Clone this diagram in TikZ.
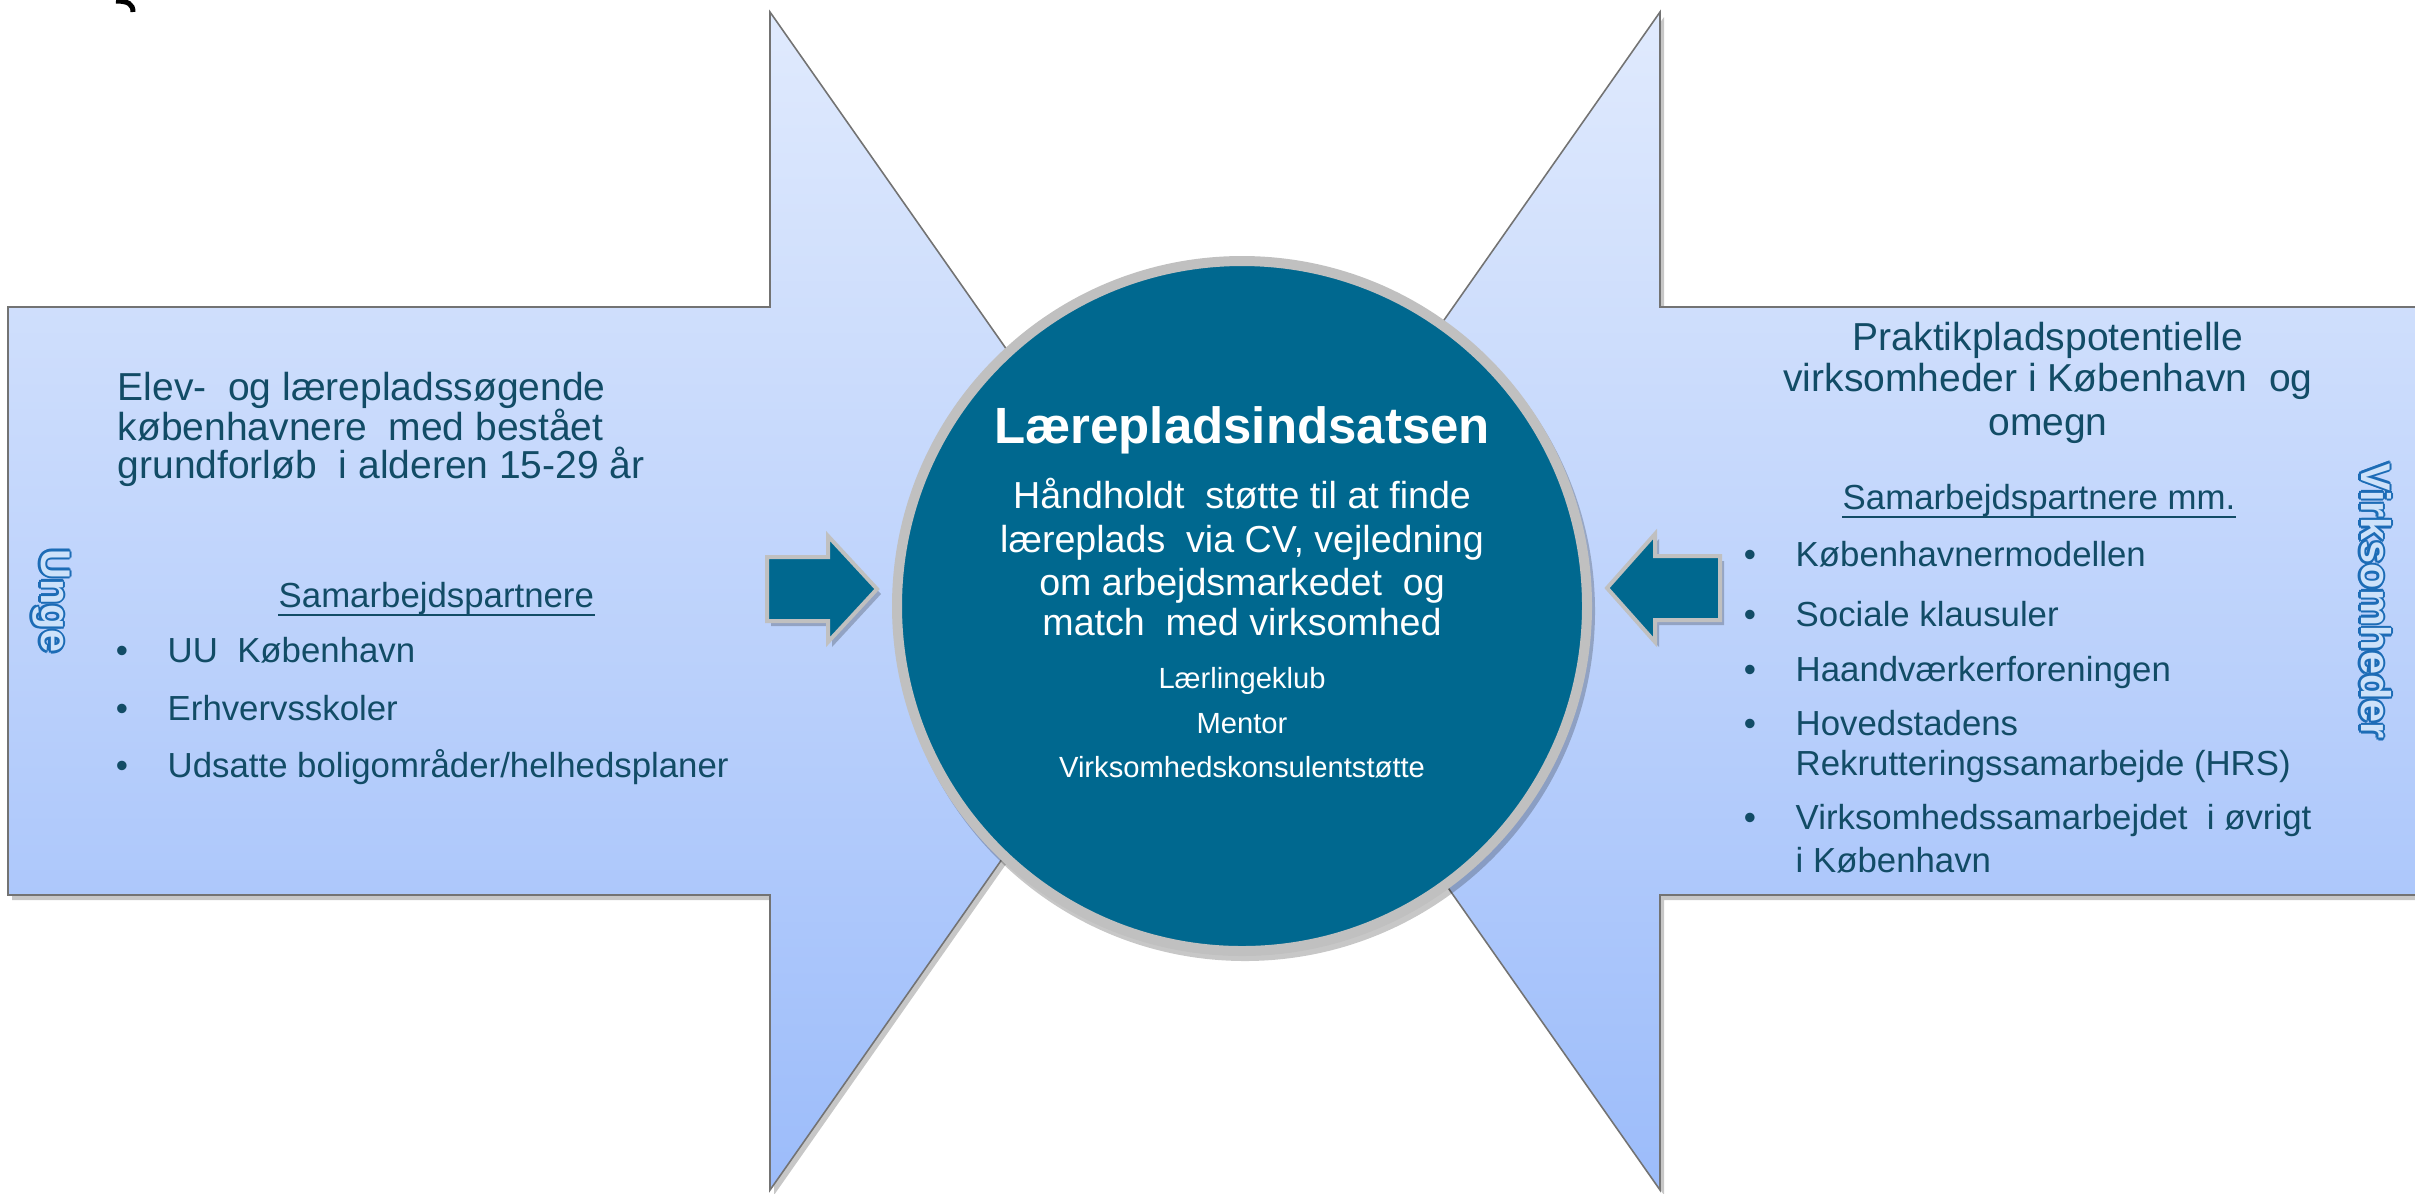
\documentclass[tikz,border=0pt]{standalone}
\usepackage{fontspec}
\setmainfont{Liberation Sans}
\usetikzlibrary{calc}
\definecolor{txtc}{RGB}{18,76,102}
\definecolor{circfill}{RGB}{0,104,143}
\definecolor{bodytop}{RGB}{224,234,253}
\definecolor{bodybot}{RGB}{156,188,250}
\definecolor{edgegray}{RGB}{115,115,115}
\definecolor{ringgray}{RGB}{192,192,192}
\definecolor{lblue}{RGB}{28,108,182}
\definecolor{lbluein}{RGB}{205,226,250}
\newcommand\olcopy[3]{\rlap{\kern#1\raisebox{#2}{\textcolor{lblue}{#3}}}}
\newcommand\outlinetext[1]{%
  \olcopy{0.7pt}{0pt}{#1}\olcopy{-0.7pt}{0pt}{#1}%
  \olcopy{0pt}{0.7pt}{#1}\olcopy{0pt}{-0.7pt}{#1}%
  \olcopy{0.5pt}{0.5pt}{#1}\olcopy{-0.5pt}{0.5pt}{#1}%
  \olcopy{0.5pt}{-0.5pt}{#1}\olcopy{-0.5pt}{-0.5pt}{#1}%
  \textcolor{lbluein}{#1}}
\newcommand\fhdr{\fontsize{11.1pt}{12pt}\selectfont}
\newcommand\fbul{\fontsize{9.9pt}{11pt}\selectfont}
\newcommand\ftitle{\bfseries\fontsize{14.5pt}{16pt}\selectfont}
\newcommand\fcirc{\fontsize{10.7pt}{12pt}\selectfont}
\newcommand\fsmall{\fontsize{8.3pt}{10pt}\selectfont}
\newcommand\fside{\bfseries\fontsize{11.8pt}{13pt}\selectfont}
\tikzset{
  bigarrow/.style={draw=edgegray, line width=0.45pt, top color=bodytop, bottom color=bodybot},
  shadowc/.style={fill=black, opacity=0.22},
  smallarrow/.style={fill=circfill, draw=ringgray, line width=0.4mm, line join=miter},
  lt/.style={anchor=base west, inner sep=0pt, text=txtc},
  ct/.style={anchor=base, inner sep=0pt, text=txtc},
  wt/.style={anchor=base, inner sep=0pt, text=white},
  bul/.style={anchor=base, inner sep=0pt, text=txtc, font=\fbul},
  uline/.style={draw=txtc, line width=0.7pt},
  sidelabel/.style={rotate=-90, inner sep=0pt, font=\fside},
}
\begin{document}
\begin{tikzpicture}[x=0.1mm, y=-0.1mm]
\useasboundingbox (0,0) rectangle (2415,1193);
% small clipped glyph at top left
\draw[black, line width=0.5mm] (116,1) .. controls (128,1) and (133,4) .. (133,12);
% shadows of big arrows
\fill[shadowc, shift={(4,5)}] (8,307) -- (770,307) -- (770,12) -- (1183,601) -- (770,1190) -- (770,895) -- (8,895) -- cycle;
\fill[shadowc, shift={(4,5)}] (2430,307) -- (1660,307) -- (1660,12) -- (1247,601) -- (1660,1190) -- (1660,895) -- (2430,895) -- cycle;
% big arrows
\path[bigarrow] (8,307) -- (770,307) -- (770,12) -- (1183,601) -- (770,1190) -- (770,895) -- (8,895) -- cycle;
\path[bigarrow] (2430,307) -- (1660,307) -- (1660,12) -- (1247,601) -- (1660,1190) -- (1660,895) -- (2430,895) -- cycle;
% central circle
\fill[shadowc] (1245,611) circle (35mm);
\node[circle, fill=circfill, draw=ringgray, line width=1mm, minimum size=69mm, inner sep=0pt] (hub) at (1242,606) {};
% small arrows
\fill[shadowc, shift={(4,5)}] (767,557) -- (828,557) -- (828,536) -- (877,589) -- (828,642) -- (828,621) -- (767,621) -- cycle;
\path[smallarrow] (767,557) -- (828,557) -- (828,536) -- (877,589) -- (828,642) -- (828,621) -- (767,621) -- cycle;
\fill[shadowc, shift={(4,5)}] (1720,556) -- (1655,556) -- (1655,534) -- (1607,588) -- (1655,642) -- (1655,620) -- (1720,620) -- cycle;
\path[smallarrow] (1720,556) -- (1655,556) -- (1655,534) -- (1607,588) -- (1655,642) -- (1655,620) -- (1720,620) -- cycle;
% side labels
\node[sidelabel] (unge) at (51,601) {\outlinetext{Unge}};
\node[sidelabel] (virk) at (2376,601) {\outlinetext{Virksomheder}};
% left text
\node[lt, font=\fhdr] (l1) at (117,400) {Elev-~ og lærepladssøgende};
\node[lt, font=\fhdr] (l2) at (117,440) {københavnere~ med bestået};
\node[lt, font=\fhdr] (l3) at (117,478) {grundforløb~ i alderen 15-29 år};
\node[lt, font=\fbul] (lsam) at (278,607) {Samarbejdspartnere};
\draw[uline] ([yshift=-2.3pt]lsam.base west) -- ([yshift=-2.3pt]lsam.base east);
\node[bul] (lb1) at (122,662) {•};
\node[lt, font=\fbul] (lt1) at (167,662) {UU~ København};
\node[bul] (lb2) at (122,720) {•};
\node[lt, font=\fbul] (lt2) at (167,720) {Erhvervsskoler};
\node[bul] (lb3) at (122,777) {•};
\node[lt, font=\fbul] (lt3) at (167,777) {Udsatte boligområder/helhedsplaner};
% circle text
\node[wt, font=\ftitle] (c0) at (1242,443) {Lærepladsindsatsen};
\node[wt, font=\fcirc] (c1) at (1242,508) {Håndholdt~ støtte til at finde};
\node[wt, font=\fcirc] (c2) at (1242,552) {læreplads~ via CV, vejledning};
\node[wt, font=\fcirc] (c3) at (1242,595) {om arbejdsmarkedet~ og};
\node[wt, font=\fcirc] (c4) at (1242,635) {match~ med virksomhed};
\node[wt, font=\fsmall] (c5) at (1242,688) {Lærlingeklub};
\node[wt, font=\fsmall] (c6) at (1242,733) {Mentor};
\node[wt, font=\fsmall] (c7) at (1242,777) {Virksomhedskonsulentstøtte};
% right text
\node[ct, font=\fhdr] (r1) at (2048,350) {Praktikpladspotentielle};
\node[ct, font=\fhdr] (r2) at (2048,391) {virksomheder i København~ og};
\node[ct, font=\fhdr] (r3) at (2048,435) {omegn};
\node[lt, font=\fbul] (rsam) at (1842,509) {Samarbejdspartnere mm.};
\draw[uline] ([yshift=-2.3pt]rsam.base west) -- ([yshift=-2.3pt]rsam.base east);
\node[bul] (rb1) at (1750,566) {•};
\node[lt, font=\fbul] (rt1) at (1795,566) {Københavnermodellen};
\node[bul] (rb2) at (1750,626) {•};
\node[lt, font=\fbul] (rt2) at (1795,626) {Sociale klausuler};
\node[bul] (rb3) at (1750,681) {•};
\node[lt, font=\fbul] (rt3) at (1795,681) {Haandværkerforeningen};
\node[bul] (rb4) at (1750,735) {•};
\node[lt, font=\fbul] (rt4a) at (1795,735) {Hovedstadens};
\node[lt, font=\fbul] (rt4b) at (1795,775) {Rekrutteringssamarbejde (HRS)};
\node[bul] (rb5) at (1750,829) {•};
\node[lt, font=\fbul] (rt5a) at (1795,829) {Virksomhedssamarbejdet~ i øvrigt};
\node[lt, font=\fbul] (rt5b) at (1795,872) {i København};
\end{tikzpicture}
\end{document}
